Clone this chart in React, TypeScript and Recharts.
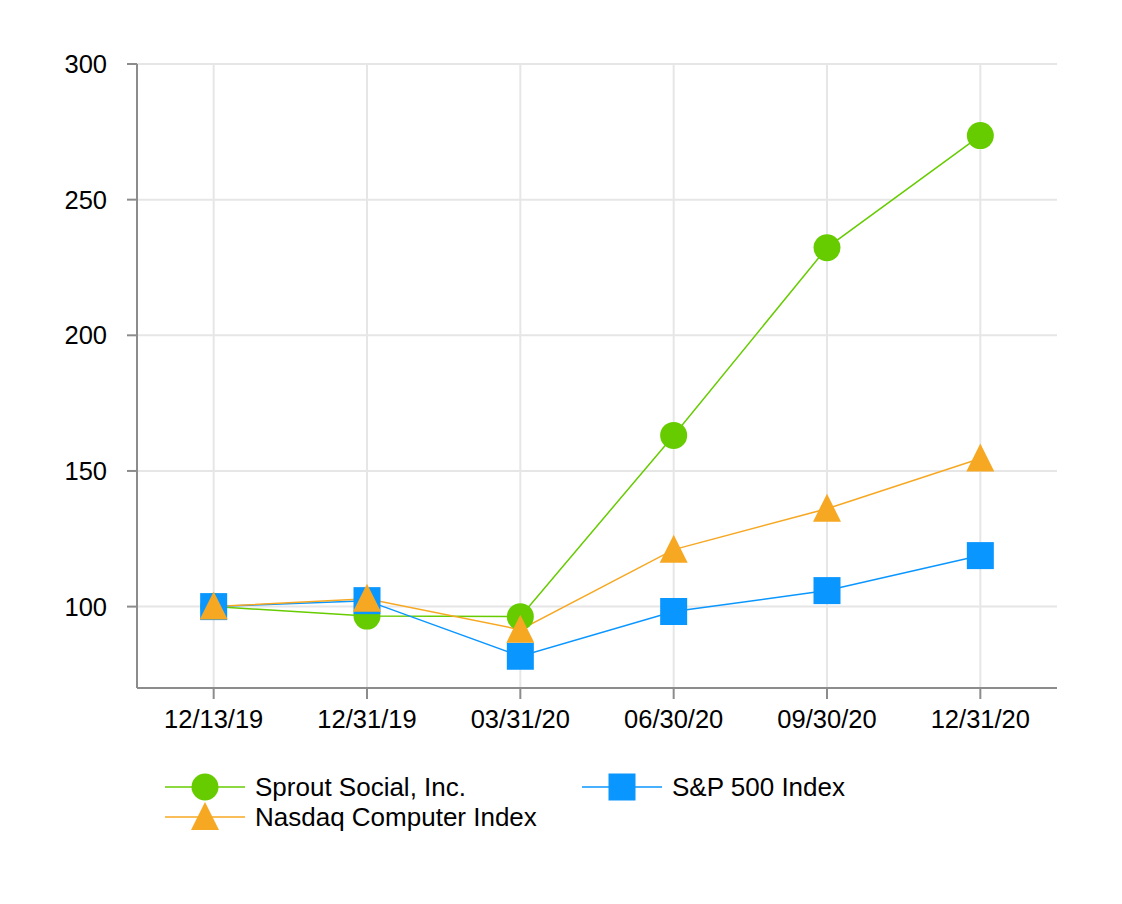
import React from "react";
import { LineChart, Line, XAxis, YAxis, CartesianGrid, Legend } from "recharts";

const categories = ["12/13/19", "12/31/19", "03/31/20", "06/30/20", "09/30/20", "12/31/20"];
const sprout = [100, 96.5, 96.3, 163.1, 232.3, 273.6];
const sp500 = [100, 102.2, 81.7, 98.2, 105.9, 118.8];
const nasdaq = [100, 102.9, 91.5, 121.0, 136.1, 154.6];
const yTicks = [100, 150, 200, 250, 300];

const GREEN = "#66CC00";
const BLUE = "#0A96FF";
const ORANGE = "#F7A823";
const FONT = "Liberation Sans, Arial, sans-serif";

const data = categories.map((c, i) => ({ date: c, sprout: sprout[i], sp500: sp500[i], nasdaq: nasdaq[i] }));

type Kind = "circle" | "square" | "triangle";

const marker = (kind: Kind, cx: number, cy: number, color: string, key?: string) => {
  if (kind === "circle") return <circle key={key} cx={cx} cy={cy} r={13.5} fill={color} />;
  if (kind === "square") return <rect key={key} x={cx - 13.5} y={cy - 13.5} width={27} height={27} fill={color} />;
  return (
    <polygon
      key={key}
      points={`${cx},${cy - 15} ${cx + 14},${cy + 13} ${cx - 14},${cy + 13}`}
      fill={color}
    />
  );
};

const makeDot = (kind: Kind, color: string) => (props: any) => {
  const { cx, cy, index } = props;
  if (cx == null || cy == null) return <g key={`d${index}`} />;
  return marker(kind, cx, cy, color, `${kind}-${index}`);
};

const legendItems: { name: string; kind: Kind; color: string; left: number; top: number }[] = [
  { name: "Sprout Social, Inc.", kind: "circle", color: GREEN, left: 165, top: 0 },
  { name: "Nasdaq Computer Index", kind: "triangle", color: ORANGE, left: 165, top: 30 },
  { name: "S&P 500 Index", kind: "square", color: BLUE, left: 582, top: 0 },
];

const renderLegend = () => (
  <div style={{ position: "relative", width: 1122, height: 70 }}>
    {legendItems.map((it) => (
      <div
        key={it.name}
        style={{ position: "absolute", left: it.left, top: it.top, height: 34, display: "flex", alignItems: "center" }}
      >
        <svg width={80} height={34} style={{ display: "block" }}>
          <line x1={0} y1={17} x2={80} y2={17} stroke={it.color} strokeWidth={1.5} />
          {marker(it.kind, 40, 17, it.color)}
        </svg>
        <span style={{ marginLeft: 10, fontFamily: FONT, fontSize: 26, color: "#000" }}>{it.name}</span>
      </div>
    ))}
  </div>
);

export default function App() {
  return (
    <div style={{ position: "absolute", left: 0, top: 0, width: 1122, height: 904, background: "#fff" }}>
      <LineChart width={1122} height={904} data={data} margin={{ top: 64, right: 65, left: 0, bottom: 64 }}>
        <CartesianGrid stroke="#e6e6e6" strokeWidth={2} syncWithTicks />
        <XAxis
          dataKey="date"
          scale="band"
          height={82}
          tickSize={11}
          tickMargin={11}
          stroke="#8c8c8c"
          strokeWidth={2}
          tick={{ fill: "#000", fontSize: 25.5, fontFamily: FONT }}
          interval={0}
        />
        <YAxis
          width={137}
          domain={[70, 300]}
          ticks={yTicks}
          tickSize={10}
          tickMargin={20}
          stroke="#8c8c8c"
          strokeWidth={2}
          tick={{ fill: "#000", fontSize: 25.5, fontFamily: FONT }}
          allowDataOverflow
        />
        <Legend verticalAlign="bottom" content={renderLegend} wrapperStyle={{ left: 0 }} />
        <Line dataKey="sprout" name="Sprout Social, Inc." stroke={GREEN} strokeWidth={1.5} dot={makeDot("circle", GREEN)} isAnimationActive={false} />
        <Line dataKey="sp500" name="S&P 500 Index" stroke={BLUE} strokeWidth={1.5} dot={makeDot("square", BLUE)} isAnimationActive={false} />
        <Line dataKey="nasdaq" name="Nasdaq Computer Index" stroke={ORANGE} strokeWidth={1.5} dot={makeDot("triangle", ORANGE)} isAnimationActive={false} />
      </LineChart>
    </div>
  );
}
